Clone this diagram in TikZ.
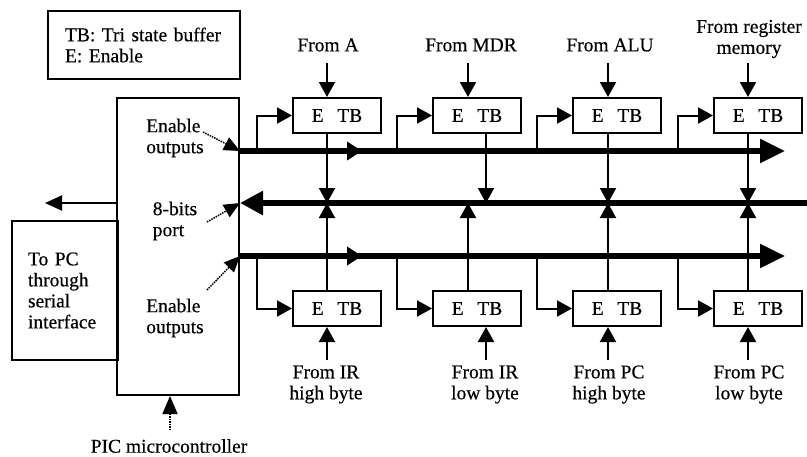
\documentclass[tikz,border=0pt]{standalone}
\usepackage{fontspec}
\setmainfont{Liberation Serif}[FakeBold=0.4]
\usetikzlibrary{arrows.meta,calc}
\begin{document}
\begin{tikzpicture}[x=1pt,y=-1pt,
  every node/.style={font=\fontsize{19.5}{21}\selectfont},
  box/.style={draw,line width=2pt,minimum width=88pt,minimum height=35pt,inner sep=0pt},
  wire/.style={line width=2pt},
  arr/.style={wire,-{Triangle[length=15pt,width=16pt]}},
  bus/.style={line width=5.5pt},
  bigtip/.style={-{Triangle[length=25pt,width=23pt]}},
  midtip/.style={-{Triangle[length=15pt,width=18pt]}},
  dotarr/.style={line width=1.5pt,densely dotted,-{Triangle[length=16pt,width=14pt]}},
  lbl/.style={align=center,inner sep=0pt},
  txt/.style={align=left,inner sep=0pt},
]
\useasboundingbox (0,0) rectangle (807,456);

% legend and main blocks
\node[draw,line width=2pt,anchor=west,minimum height=68pt,inner xsep=17pt,text width=158pt,align=left] (legend) at (47,45) {TB: Tri state buffer\\E: Enable};
\node[draw,line width=2pt,minimum width=122pt,minimum height=297pt] (pic) at (178,246.5) {};
\node[draw,line width=2pt,anchor=west,minimum height=139pt,inner xsep=16pt,text width=74pt,align=left] (pc) at (11,290.5) {To PC\\through\\serial\\interface};

% tri-state buffers
\node[box] (tb1) at (337,115.5) {E\hspace{0.7em}TB};
\node[box] (tb2) at (477,115.5) {E\hspace{0.7em}TB};
\node[box] (tb3) at (617,115.5) {E\hspace{0.7em}TB};
\node[box] (tb4) at (758,115.5) {E\hspace{0.7em}TB};
\node[box] (bb1) at (337,308.5) {E\hspace{0.7em}TB};
\node[box] (bb2) at (477,308.5) {E\hspace{0.7em}TB};
\node[box] (bb3) at (617,308.5) {E\hspace{0.7em}TB};
\node[box] (bb4) at (758,308.5) {E\hspace{0.7em}TB};

% source labels
\node[lbl] (la) at (328,45) {From A};
\node[lbl] (lm) at (471,45) {From MDR};
\node[lbl] (lalu) at (610,45) {From ALU};
\node[lbl] (lr) at (749,39) {From register\\memory};
\node[lbl] (lir1) at (326,384.5) {From IR\\high byte};
\node[lbl] (lir2) at (485,384.5) {From IR\\low byte};
\node[lbl] (lpc1) at (609,384.5) {From PC\\high byte};
\node[lbl] (lpc2) at (749,384.5) {From PC\\low byte};

% PIC labels
\node[txt] (en1) at (175,138) {Enable\\outputs};
\node[txt] (port) at (175,221) {8-bits\\port};
\node[txt] (en2) at (175,318) {Enable\\outputs};
\node[inner sep=0pt] (picl) at (169,446) {PIC microcontroller};

% coordinates
\coordinate (t0) at (240,151); \coordinate (tm) at (362,151); \coordinate (t1) at (785,151);
\coordinate (m0) at (807,203); \coordinate (m1) at (240,203);
\coordinate (b0) at (240,256); \coordinate (bm) at (362,256); \coordinate (b1) at (785,256);
\coordinate (pcout) at (45,203);

% buses
\draw[bus,bigtip] (t0) -- (t1);
\draw[bus,midtip] (t0) -- (tm);
\draw[bus,-{Triangle[length=23pt,width=23pt]}] (m0) -- (m1);
\draw[bus,bigtip] (b0) -- (b1);
\draw[bus,midtip] (b0) -- (bm);

% output to PC
\draw[wire,-{Triangle[length=17pt,width=15pt]}] (pic.west |- pcout) -- (pcout);

% enable branches
\coordinate (e1) at (257,151); \coordinate (e2) at (397,151); \coordinate (e3) at (537,151); \coordinate (e4) at (678,151);
\coordinate (f1) at (257,256); \coordinate (f2) at (397,256); \coordinate (f3) at (537,256); \coordinate (f4) at (678,256);
\draw[arr] (e1) |- (tb1.west);
\draw[arr] (e2) |- (tb2.west);
\draw[arr] (e3) |- (tb3.west);
\draw[arr] (e4) |- (tb4.west);
\draw[arr] (f1) |- (bb1.west);
\draw[arr] (f2) |- (bb2.west);
\draw[arr] (f3) |- (bb3.west);
\draw[arr] (f4) |- (bb4.west);

% inputs
\coordinate (ia1) at (327,63); \coordinate (ia2) at (468,63); \coordinate (ia3) at (608,63); \coordinate (ia4) at (748,63);
\coordinate (ib1) at (327,360); \coordinate (ib2) at (486,360); \coordinate (ib3) at (608,360); \coordinate (ib4) at (748,360);
\draw[arr] (ia1) -- (ia1 |- tb1.north);
\draw[arr] (ia2) -- (ia2 |- tb2.north);
\draw[arr] (ia3) -- (ia3 |- tb3.north);
\draw[arr] (ia4) -- (ia4 |- tb4.north);
\draw[arr] (ib1) -- (ib1 |- bb1.south);
\draw[arr] (ib2) -- (ib2 |- bb2.south);
\draw[arr] (ib3) -- (ib3 |- bb3.south);
\draw[arr] (ib4) -- (ib4 |- bb4.south);

% outputs onto the middle bus
\coordinate (d1) at (327,203); \coordinate (d2) at (486,203); \coordinate (d3) at (608,203); \coordinate (d4) at (748,203);
\coordinate (u1) at (327,203); \coordinate (u2) at (468,203); \coordinate (u3) at (608,203); \coordinate (u4) at (748,203);
\draw[arr] (d1 |- tb1.south) -- (d1);
\draw[arr] (d2 |- tb2.south) -- (d2);
\draw[arr] (d3 |- tb3.south) -- (d3);
\draw[arr] (d4 |- tb4.south) -- (d4);
\draw[arr] (u1 |- bb1.north) -- (u1);
\draw[arr] (u2 |- bb2.north) -- (u2);
\draw[arr] (u3 |- bb3.north) -- (u3);
\draw[arr] (u4 |- bb4.north) -- (u4);

% dotted pointers
\coordinate (s1) at (203,132); \coordinate (s2) at (207,222); \coordinate (s3) at (207,290); \coordinate (s4) at (170,430);
\draw[dotarr] (s1) -- (t0);
\draw[dotarr] (s2) -- (m1);
\draw[dotarr] (s3) -- (b0);
\draw[dotarr,-{Triangle[length=18pt,width=15pt]}] (s4) -- (s4 |- pic.south);
\end{tikzpicture}
\end{document}
